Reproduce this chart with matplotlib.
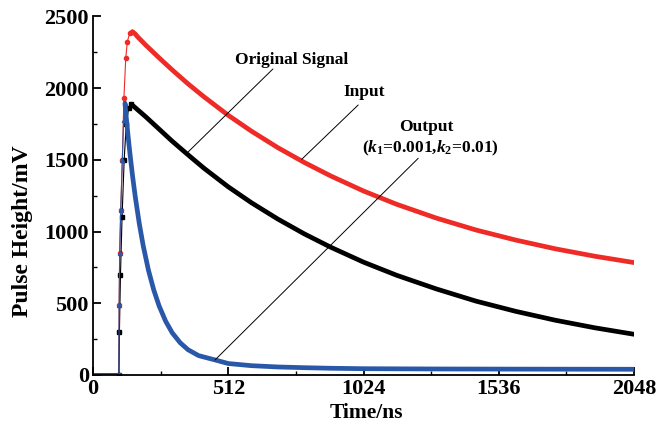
import numpy as np
import matplotlib.pyplot as plt
from matplotlib.ticker import MultipleLocator

plt.rcParams['font.family'] = 'Liberation Serif'
plt.rcParams['font.weight'] = 'bold'
plt.rcParams['mathtext.fontset'] = 'custom'
plt.rcParams['mathtext.rm'] = 'Liberation Serif:bold'
plt.rcParams['mathtext.it'] = 'Liberation Serif:italic:bold'

# Input (red), values
t_in = [0, 98, 99, 101, 105, 111, 117, 124, 130, 139, 149, 160, 170, 200, 250,
        300, 360, 420, 512, 600, 700, 800, 900, 1024, 1150, 1300, 1450, 1600,
        1750, 1900, 2048]
y_in = [0, 0, 490, 850, 1150, 1500, 1930, 2210, 2325, 2385, 2394, 2378, 2356,
        2300, 2212, 2127, 2030, 1940, 1811, 1700, 1585, 1482, 1388, 1283, 1190,
        1094, 1011, 941, 880, 828, 784]

# Original signal (black)
t_org = [0, 98, 100, 104, 110, 118, 126, 135, 145, 170, 200, 250, 300, 360,
         420, 512, 600, 700, 800, 900, 1024, 1150, 1300, 1450, 1600, 1750,
         1900, 2048]
y_org = [0, 0, 300, 700, 1100, 1500, 1750, 1860, 1888, 1848, 1800, 1715, 1630,
         1535, 1442, 1312, 1201, 1087, 984, 891, 787, 695, 600, 515, 444, 382,
         329, 284]

# Output (blue)
t_out = [0, 98, 99, 101, 105, 111, 116, 121, 126, 131, 136, 141, 150, 160, 175,
         190, 210, 230, 250, 275, 300, 330, 360, 400, 462, 512, 600, 700, 800,
         900, 1024, 1300, 1600, 2048]
y_out = [0, 0, 490, 850, 1150, 1500, 1780, 1895, 1795, 1700, 1610, 1526, 1384,
         1243, 1058, 902, 730, 593, 483, 375, 294, 225, 176, 135, 105, 80, 65,
         56, 51, 47, 44, 42, 41, 40]

red = '#EE2B26'
blue = '#2A58A8'

fig = plt.figure(figsize=(6.7, 4.43), dpi=100)
ax = fig.add_axes([0.1388, 0.1535, 0.8075, 0.8093])

series = [(t_in, y_in, red, 'o'), (t_org, y_org, 'black', 's'), (t_out, y_out, blue, '^')]
for t, y, c, m in series:
    t = np.array(t)
    y = np.array(y)
    pk = int(np.argmax(y))
    ax.plot(t[1:pk + 1], y[1:pk + 1], color=c, lw=0.8, marker=m, ms=3)
    ax.plot(t[pk:], y[pk:], color=c, lw=3.4, solid_capstyle='round')
    ax.plot(t[:2], y[:2], color=c, lw=3.4)

ax.set_xlim(0, 2048)
ax.set_ylim(0, 2500)
ax.set_xticks([0, 512, 1024, 1536, 2048])
ax.set_yticks([0, 500, 1000, 1500, 2000, 2500])
ax.xaxis.set_minor_locator(MultipleLocator(256))
ax.yaxis.set_minor_locator(MultipleLocator(250))
ax.tick_params(which='major', direction='in', length=6, width=1.3, labelsize=16, pad=3)
ax.tick_params(which='minor', direction='in', length=3, width=1.0)
ax.spines['top'].set_visible(False)
ax.spines['right'].set_visible(False)
ax.spines['left'].set_linewidth(1.3)
ax.spines['bottom'].set_linewidth(1.3)
for lab in ax.get_xticklabels() + ax.get_yticklabels():
    lab.set_fontweight('bold')

ax.set_xlabel('Time/ns', fontsize=15.5, fontweight='bold')
ax.xaxis.set_label_coords(0.505, -0.078)
ax.set_ylabel('Pulse Height/mV', fontsize=17, fontweight='bold')
ax.yaxis.set_label_coords(-0.11, 0.40)

# annotations
line = dict(arrowstyle='-', lw=0.7, color='black', shrinkA=0, shrinkB=0)
ax.annotate('', xy=(361, 1557), xytext=(681, 2134), arrowprops=line)
ax.text(750, 2200, 'Original Signal', fontsize=12.5, fontweight='bold', ha='center', va='center')
ax.annotate('', xy=(790, 1504), xytext=(1004, 1883), arrowprops=line)
ax.text(1026, 1976, 'Input', fontsize=12.5, fontweight='bold', ha='center', va='center')
ax.annotate('', xy=(462, 105), xytext=(1231, 1511), arrowprops=line)
ax.text(1260, 1727, 'Output', fontsize=12.5, fontweight='bold', ha='center', va='center')
ax.text(1276, 1581, r'($k_1$=0.001,$k_2$=0.01)', fontsize=12.5, fontweight='bold',
        ha='center', va='center')

fig.savefig('out.png', dpi=100)
